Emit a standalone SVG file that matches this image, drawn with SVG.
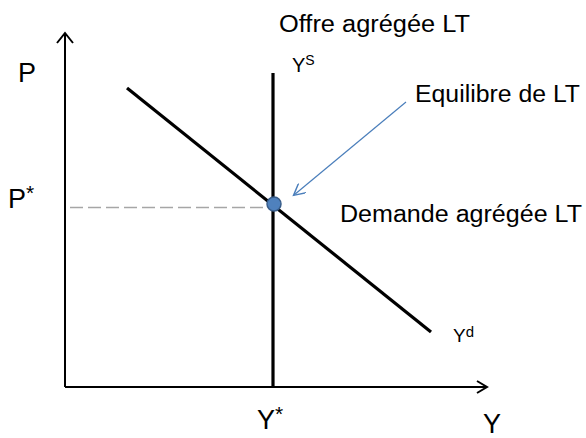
<svg xmlns="http://www.w3.org/2000/svg" width="586" height="438" viewBox="0 0 586 438">
<style>
text{font-family:"Liberation Sans",Arial,sans-serif;fill:#000}
.lbl{font-size:23px}
.ax{font-size:27px}
.axis{stroke:#000;stroke-width:2;fill:none}
.curve{stroke:#000;stroke-width:3.2;fill:none}
</style>
<defs>
<marker id="open" viewBox="0 0 10 10" refX="9" refY="5" markerWidth="14" markerHeight="12" markerUnits="userSpaceOnUse" orient="auto">
<path d="M0,0 L9.5,5 L0,10" fill="none" stroke="#4a7ebb" stroke-width="1.2"/>
</marker>
</defs>
<g id="axes">
<path class="axis" d="M65,387 V33 M57,43 L65,33 L73,43"/>
<path class="axis" d="M65,387 H486 M477,381 L487,387 L477,393"/>
<text class="ax" x="18" y="82">P</text>
<text class="ax" x="8" y="208">P<tspan font-size="21" dy="-8">*</tspan></text>
<text class="ax" x="257" y="429">Y<tspan font-size="21" dy="-8">*</tspan></text>
<text class="ax" x="483" y="433">Y</text>
</g>
<g id="connectors">
<line x1="70" y1="207.5" x2="268" y2="207.5" stroke="#a6a6a6" stroke-width="1.6" stroke-dasharray="13,5"/>
<line x1="406" y1="102" x2="294" y2="195" stroke="#4a7ebb" stroke-width="1.2" marker-end="url(#open)"/>
</g>
<g id="supply">
<line class="curve" x1="273" y1="73" x2="273" y2="387"/>
<text x="292" y="72" font-size="20">Y<tspan font-size="14" dy="-7">S</tspan></text>
<text class="lbl" x="279" y="32" textLength="191" lengthAdjust="spacingAndGlyphs">Offre agrégée LT</text>
</g>
<g id="demand">
<line class="curve" x1="127" y1="88" x2="431" y2="332"/>
<text x="453" y="342" font-size="19">Y<tspan font-size="15" dy="-5">d</tspan></text>
<text class="lbl" x="340" y="222" textLength="242" lengthAdjust="spacingAndGlyphs">Demande agrégée LT</text>
</g>
<g id="equilibrium">
<circle cx="274" cy="204" r="7" fill="#4f81bd" stroke="#385d8a" stroke-width="1.5"/>
<text class="lbl" x="415" y="102" textLength="165" lengthAdjust="spacingAndGlyphs">Equilibre de LT</text>
</g>
</svg>
